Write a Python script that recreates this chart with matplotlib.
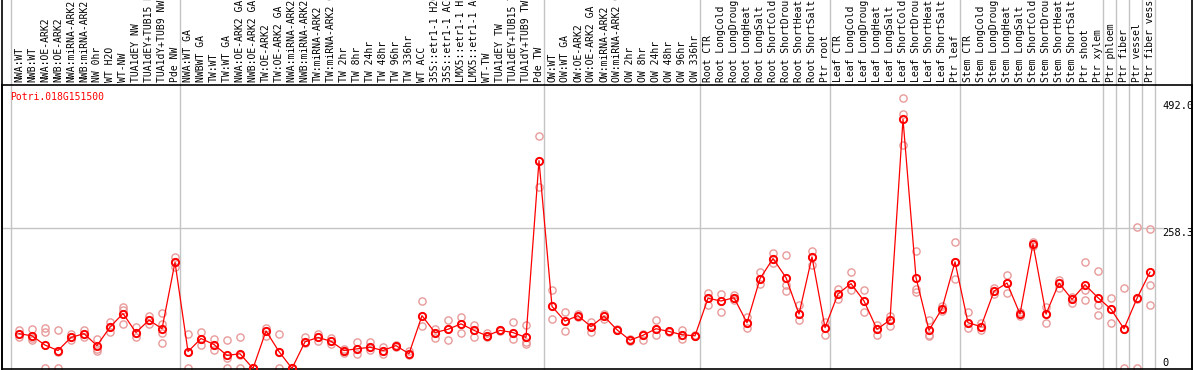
import numpy as np
import matplotlib
matplotlib.use('Agg')
import matplotlib.pyplot as plt
from matplotlib.lines import Line2D

gene = 'Potri.018G151500'

labels = ['NWA:WT', 'NWB:WT', 'NWA:OE-ARK2', 'NWB:OE-ARK2', 'NWA:miRNA-ARK2', 'NWB:miRNA-ARK2',
          'NW 0hr', 'WT H2O', 'WT-NW', 'TUA1dEY NW', 'TUA1dEY+TUB15 NW', 'TUA1dY+TUB9 NW', 'Pde NW',
          'NWA:WT GA', 'NWBWT GA', 'TW:WT', 'TW:WT GA', 'NWA:OE-ARK2 GA', 'NWB:OE-ARK2 GA',
          'TW:OE-ARK2', 'TW:OE-ARK2 GA', 'NWA:miRNA-ARK2 GA', 'NWB:miRNA-ARK2 GA', 'TW:miRNA-ARK2',
          'TW:miRNA-ARK2 GA', 'TW 2hr', 'TW 8hr', 'TW 24hr', 'TW 48hr', 'TW 96hr', 'TW 336hr', 'WT ACC',
          '35S::etr1-1 H2O', '35S::etr1-1 ACC', 'LMX5::etr1-1 H2O', 'LMX5::etr1-1 ACC', 'WT-TW',
          'TUA1dEY TW', 'TUA1dEY+TUB15 TW', 'TUA1dY+TUB9 TW', 'Pde TW',
          'OW:WT', 'OW:WT GA', 'OW:OE-ARK2', 'OW:OE-ARK2 GA', 'OW:miRNA-ARK2', 'OW:miRNA-ARK2 GA',
          'OW 2hr', 'OW 8hr', 'OW 24hr', 'OW 48hr', 'OW 96hr', 'OW 336hr',
          'Root CTR', 'Root LongCold', 'Root LongDrought', 'Root LongHeat', 'Root LongSalt',
          'Root ShortCold', 'Root ShortDrought', 'Root ShortHeat', 'Root ShortSalt', 'Ptr root',
          'Leaf CTR', 'Leaf LongCold', 'Leaf LongDrought', 'Leaf LongHeat', 'Leaf LongSalt',
          'Leaf ShortCold', 'Leaf ShortDrought', 'Leaf ShortHeat', 'Leaf ShortSalt', 'Ptr leaf',
          'Stem CTR', 'Stem LongCold', 'Stem LongDrought', 'Stem LongHeat', 'Stem LongSalt',
          'Stem ShortCold', 'Stem ShortDrought', 'Stem ShortHeat', 'Stem ShortSalt', 'Ptr shoot', 'Ptr xylem',
          'Ptr phloem', 'Ptr fiber', 'Ptr vessel', 'Ptr fiber vessel']

group_sizes = [13, 28, 12, 10, 10, 11, 1, 1, 1, 1]

means = [64, 60, 43, 33, 57, 64, 42, 76, 101, 66, 89, 73, 195,
         31, 55, 44, 24, 27, 0, 69, 31, 0, 49, 57, 50, 33, 36, 39, 33, 42, 27, 97,
         66, 72, 82, 70, 60, 70, 66, 57, 382,
         114, 87, 97, 77, 96, 71, 52, 61, 73, 68, 62, 60,
         129, 124, 130, 84, 165, 202, 167, 100, 205, 75,
         137, 156, 124, 72, 89, 458, 167, 70, 110, 196,
         84, 77, 142, 157, 100, 229, 100, 157, 127, 154, 130,
         109, 73, 129, 177]

reps = [[71, 64, 57], [72, 56, 52], [74, 67, 0], [70, 30, 0], [63, 52, 57], [71, 57, 64],
        [55, 36, 33], [85, 67, 76], [113, 108, 82], [77, 57, 66], [96, 82, 89], [102, 82, 65, 46],
        [205, 186, 195],
        [64, 31, 0], [67, 44, 55], [55, 34, 44], [52, 20, 0], [57, 24, 0], [0, 0, 0], [74, 59, 69],
        [64, 31, 0], [0, 0, 0], [57, 46, 49], [64, 50, 57], [56, 45, 50], [36, 28, 33], [49, 26, 36],
        [49, 34, 39], [40, 26, 33], [44, 40, 42], [32, 24, 27], [124, 78, 97], [73, 56, 66],
        [89, 52, 72], [94, 66, 82], [79, 57, 70], [66, 57, 60], [71, 69, 70], [85, 55, 66],
        [79, 49, 45], [428, 333, 382],
        [144, 90, 114], [104, 69, 87], [100, 95, 97], [85, 67, 77], [100, 90, 96], [72, 70, 71],
        [54, 50, 52], [64, 52, 61], [89, 61, 73], [69, 67, 68], [71, 55, 62], [61, 59, 60],
        [139, 117, 129], [137, 103, 124], [135, 126, 130], [94, 75, 84], [178, 156, 165],
        [213, 193, 202], [208, 154, 142], [116, 89, 100], [215, 190, 205], [85, 62, 75],
        [146, 127, 137], [177, 144, 156], [145, 104, 124], [79, 62, 72], [97, 78, 89],
        [498, 467, 411], [216, 146, 140], [89, 61, 60], [114, 106, 110], [232, 164, 196],
        [104, 74, 84], [84, 70, 77], [148, 136, 142], [172, 138, 157], [104, 96, 100],
        [233, 225, 229], [113, 84, 100], [162, 147, 157], [131, 121, 127], [195, 144, 125],
        [179, 117, 98],
        [129, 84, 109], [147, 73, 0], [260, 127, 0], [256, 154, 116]]

y_marks = [492.0, 258.3, 0]

W, H = 1194, 370
mono = 'DejaVu Sans Mono'
grid_c = '#c4c4c4'

fig = plt.figure(figsize=(W / 100, H / 100), dpi=100)
# plot area: x 1.5..1191.5 px, y 85..369 px (from top)
ax = fig.add_axes([1.5 / W, 1 / H, 1190 / W, 284 / H])
x = np.arange(len(means))
ax.set_xlim((1.5 - 19) / 13, (1191.5 - 19) / 13)
ax.set_ylim(-1.0, 521)

for s in ax.spines.values():
    s.set_color('black')
    s.set_linewidth(1.2)

# group separators go through the label band too
starts = np.cumsum([0] + group_sizes)
for b in starts:
    ax.axvline(b - 0.62, ymin=0, ymax=1.31, clip_on=False, color=grid_c, lw=1, zorder=0)
ax.hlines(258.3, ax.get_xlim()[0], 88.0, color=grid_c, lw=1, zorder=0)

# replicates
for i, r in enumerate(reps):
    ax.plot([i] * len(r), r, 'o', mfc='none', mec='#e89a9a', ms=5.2, mew=1.0, zorder=2, clip_on=False)

ax.plot(x, means, '-', color='red', lw=0.9, zorder=3)
ax.plot(x, means, 'o', mfc='none', mec='red', ms=5.2, mew=1.4, zorder=4, clip_on=False)

# sample names on top
ax.set_xticks(x)
ax.set_xticklabels(labels, rotation=90, fontsize=7, family=mono)
ax.tick_params(axis='x', top=True, bottom=False, labeltop=True, labelbottom=False, length=0, pad=2.2)
ax.set_yticks([])

for v in y_marks:
    ax.text(87.95, v, '%g' % v if v == 0 else '%.1f' % v, fontsize=7.5, family=mono,
            va='bottom' if v == 0 else 'top', ha='left')

ax.text(8.5 / 1190, 1 - 12 / 284, gene, transform=ax.transAxes, color='red', fontsize=7,
        family=mono, va='center', ha='left')

# outer frame
fig.add_artist(Line2D([1.5 / W, 1.5 / W], [0, 1], color='black', lw=1.2))
fig.add_artist(Line2D([1191.5 / W, 1191.5 / W], [0, 1], color='black', lw=1.2))

fig.savefig('out.png', dpi=100)
